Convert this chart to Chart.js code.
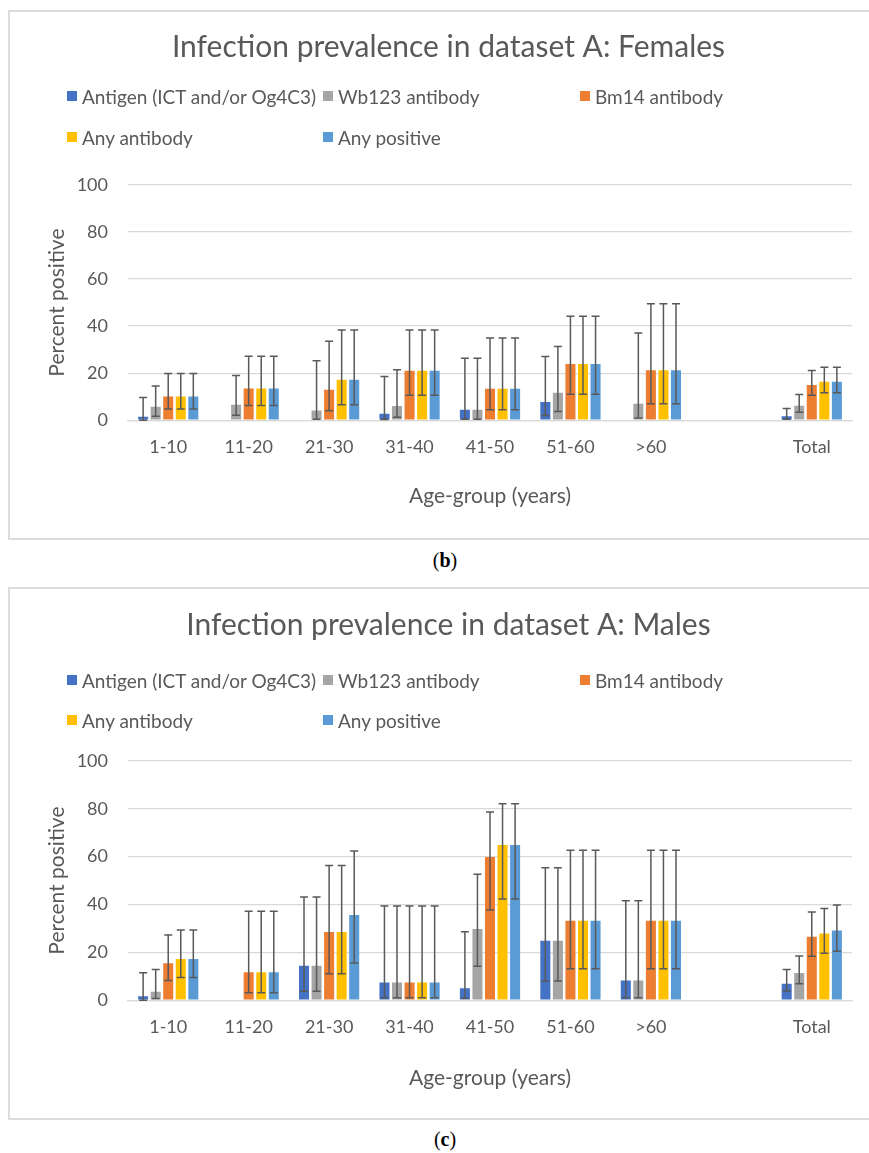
<!DOCTYPE html>
<html>
<head>
<meta charset="utf-8">
<script src="https://cdn.jsdelivr.net/npm/chart.js"></script>
<style>
  body { margin: 0; width: 869px; height: 1153px; overflow: hidden; background: #fff; position: relative; font-family: Lato, sans-serif; }
  .panel { position: absolute; left: 8px; width: 880px; border: 2px solid #dcdcdc; box-sizing: border-box; background: #fff; }
  .panel canvas { position: absolute; left: 0; top: 0; }
  .legend-item { position: absolute; height: 20px; display: flex; align-items: center; font-size: 19px; color: #595959; white-space: nowrap; }
  .legend-item span.box { display: inline-block; width: 10px; height: 10px; margin-right: 5px; }
  .caption { position: absolute; width: 100px; text-align: center; font-family: "Liberation Serif", "DejaVu Serif", serif; font-size: 20px; color: #000; }
</style>
</head>
<body>
<div class="panel" id="panelF" style="top:10px;height:530px;">
  <canvas id="chartF" width="859" height="526"></canvas>
</div>
<div class="caption" style="left:395px;top:549px;">(<b>b</b>)</div>
<div class="panel" id="panelM" style="top:587px;height:533px;">
  <canvas id="chartM" width="859" height="529"></canvas>
</div>
<div class="caption" style="left:395px;top:1128px;">(<b>c</b>)</div>
<script>
const categories = ['1-10', '11-20', '21-30', '31-40', '41-50', '51-60', '>60', '', 'Total'];
const seriesNames = ['Antigen (ICT and/or Og4C3)', 'Wb123 antibody', 'Bm14 antibody', 'Any antibody', 'Any positive'];
const seriesColors = ['#4472C4', '#A5A5A5', '#ED7D31', '#FFC000', '#5B9BD5'];

// females
const fAntigen   = [1.5, null, null, 2.7, 4.4, 7.7, null, null, 1.7];
const fAntigenLo = [0.0, null, null, 0.3, 0.4, 2.0, null, null, 0.4];
const fAntigenHi = [9.7, null, null, 18.6, 26.3, 27.1, null, null, 5.0];
const fWb   = [5.7, 6.6, 4.1, 6.0, 4.4, 11.7, 7.0, null, 6.1];
const fWbLo = [1.7, 2.1, 0.4, 1.3, 0.4, 3.7, 0.9, null, 3.4];
const fWbHi = [14.5, 19.0, 25.3, 21.4, 26.3, 31.3, 37.1, null, 10.9];
const fBm   = [10.1, 13.5, 12.9, 21.0, 13.4, 23.9, 21.2, null, 15.0];
const fBmLo = [4.8, 6.2, 4.0, 10.6, 4.4, 11.0, 7.0, null, 10.6];
const fBmHi = [19.9, 27.2, 33.6, 38.3, 34.9, 44.2, 49.5, null, 21.1];
const fAny   = [10.1, 13.5, 17.2, 21.0, 13.4, 23.9, 21.2, null, 16.3];
const fAnyLo = [4.8, 6.2, 6.6, 10.6, 4.4, 11.0, 7.0, null, 11.7];
const fAnyHi = [19.9, 27.2, 38.3, 38.3, 34.9, 44.2, 49.5, null, 22.5];
const fPos   = [10.1, 13.5, 17.2, 21.0, 13.4, 23.9, 21.2, null, 16.3];
const fPosLo = [4.8, 6.2, 6.6, 10.6, 4.4, 11.0, 7.0, null, 11.7];
const fPosHi = [19.9, 27.2, 38.3, 38.3, 34.9, 44.2, 49.5, null, 22.5];

// males
const mAntigen   = [1.6, null, 14.4, 7.4, 5.0, 24.9, 8.2, null, 6.9];
const mAntigenLo = [0.0, null, 3.7, 1.0, 0.8, 8.0, 1.0, null, 3.8];
const mAntigenHi = [11.5, null, 43.1, 39.4, 28.6, 55.4, 41.6, null, 12.8];
const mWb   = [3.5, null, 14.4, 7.4, 29.8, 24.9, 8.2, null, 11.4];
const mWbLo = [0.7, null, 3.7, 1.0, 14.2, 8.0, 1.0, null, 6.9];
const mWbHi = [12.8, null, 43.1, 39.4, 52.7, 55.4, 41.6, null, 18.5];
const mBm   = [15.4, 11.7, 28.5, 7.4, 59.9, 33.2, 33.2, null, 26.5];
const mBmLo = [8.2, 3.1, 11.1, 1.0, 37.7, 13.1, 13.1, null, 18.4];
const mBmHi = [27.3, 37.2, 56.3, 39.4, 78.7, 62.7, 62.7, null, 36.9];
const mAny   = [17.2, 11.7, 28.5, 7.4, 64.9, 33.2, 33.2, null, 27.9];
const mAnyLo = [9.5, 3.1, 11.1, 1.0, 42.3, 13.1, 13.1, null, 19.6];
const mAnyHi = [29.4, 37.2, 56.3, 39.4, 82.1, 62.7, 62.7, null, 38.3];
const mPos   = [17.2, 11.7, 35.6, 7.4, 64.9, 33.2, 33.2, null, 29.1];
const mPosLo = [9.5, 3.1, 15.5, 1.0, 42.3, 13.1, 13.1, null, 20.5];
const mPosHi = [29.4, 37.2, 62.4, 39.4, 82.1, 62.7, 62.7, null, 39.8];

const yTicks = [0, 20, 40, 60, 80, 100];

// draws the confidence interval whiskers on top of the bars
const errorBars = {
  id: 'errorBars',
  afterDatasetsDraw(chart) {
    const ctx = chart.ctx;
    const yScale = chart.scales.y;
    ctx.save();
    ctx.strokeStyle = '#595959';
    ctx.lineWidth = 1.5;
    chart.data.datasets.forEach((ds, i) => {
      const meta = chart.getDatasetMeta(i);
      meta.data.forEach((bar, j) => {
        const lo = ds.errLow[j], hi = ds.errHigh[j];
        if (lo == null || hi == null) return;
        const x = bar.x;
        const y1 = yScale.getPixelForValue(lo);
        const y2 = yScale.getPixelForValue(hi);
        ctx.beginPath();
        ctx.moveTo(x, y1); ctx.lineTo(x, y2);
        ctx.moveTo(x - 4, y1); ctx.lineTo(x + 4, y1);
        ctx.moveTo(x - 4, y2); ctx.lineTo(x + 4, y2);
        ctx.stroke();
      });
    });
    ctx.restore();
  }
};

function buildLegend(panelId, rowTops) {
  const panel = document.getElementById(panelId);
  const cols = [57, 313, 570];
  seriesNames.forEach((name, i) => {
    const item = document.createElement('div');
    item.className = 'legend-item';
    item.style.left = cols[i % 3] + 'px';
    item.style.top = rowTops[Math.floor(i / 3)] + 'px';
    item.innerHTML = '<span class="box" style="background:' + seriesColors[i] + '"></span>' + name;
    panel.appendChild(item);
  });
}

function makeChart(canvasId, title, values, lows, highs, lay) {
  const ctx = document.getElementById(canvasId).getContext('2d');
  return new Chart(ctx, {
    type: 'bar',
    data: {
      labels: categories,
      datasets: seriesNames.map((name, i) => ({
        label: name,
        data: values[i],
        errLow: lows[i],
        errHigh: highs[i],
        backgroundColor: seriesColors[i],
        categoryPercentage: 0.78,
        barPercentage: 0.8
      }))
    },
    options: {
      responsive: false,
      animation: false,
      layout: { padding: { left: 35, right: 17, top: 0, bottom: lay.padBottom } },
      plugins: {
        legend: { display: false },
        tooltip: { enabled: false },
        title: {
          display: true,
          text: title,
          color: '#595959',
          font: { family: 'Lato', size: 30, weight: 'normal', lineHeight: 1.2 },
          padding: { top: lay.titleTop, bottom: lay.titleBottom }
        }
      },
      scales: {
        x: {
          grid: { display: false, drawTicks: false },
          border: { display: true, color: '#d9d9d9', width: 1.3 },
          ticks: { color: '#595959', padding: 16, font: { family: 'Lato', size: 18, lineHeight: 1.2 } },
          title: {
            display: true,
            text: 'Age-group (years)',
            color: '#595959',
            font: { family: 'Lato', size: 21, lineHeight: 1.2 },
            padding: { top: lay.xTitleTop, bottom: 0 }
          }
        },
        y: {
          min: 0,
          max: 100,
          afterBuildTicks(scale) { scale.ticks = yTicks.map(v => ({ value: v })); },
          afterFit(scale) { scale.width = 83; },
          grid: { color: '#d9d9d9', lineWidth: 1.3, drawTicks: false },
          border: { display: false },
          ticks: { color: '#595959', padding: 20, font: { family: 'Lato', size: 18 } },
          title: {
            display: true,
            text: 'Percent positive',
            color: '#595959',
            font: { family: 'Lato', size: 21, lineHeight: 1.2 },
            padding: { top: 0, bottom: 0 }
          }
        }
      }
    },
    plugins: [errorBars]
  });
}

buildLegend('panelF', [74, 115]);
buildLegend('panelM', [81, 121]);

makeChart('chartF', 'Infection prevalence in dataset A: Females',
  [fAntigen, fWb, fBm, fAny, fPos],
  [fAntigenLo, fWbLo, fBmLo, fAnyLo, fPosLo],
  [fAntigenHi, fWbHi, fBmHi, fAnyHi, fPosHi],
  { titleTop: 17, titleBottom: 120, xTitleTop: 10, padBottom: 29 });

makeChart('chartM', 'Infection prevalence in dataset A: Males',
  [mAntigen, mWb, mBm, mAny, mPos],
  [mAntigenLo, mWbLo, mBmLo, mAnyLo, mPosLo],
  [mAntigenHi, mWbHi, mBmHi, mAnyHi, mPosHi],
  { titleTop: 18, titleBottom: 118, xTitleTop: 12, padBottom: 27 });
</script>
</body>
</html>
